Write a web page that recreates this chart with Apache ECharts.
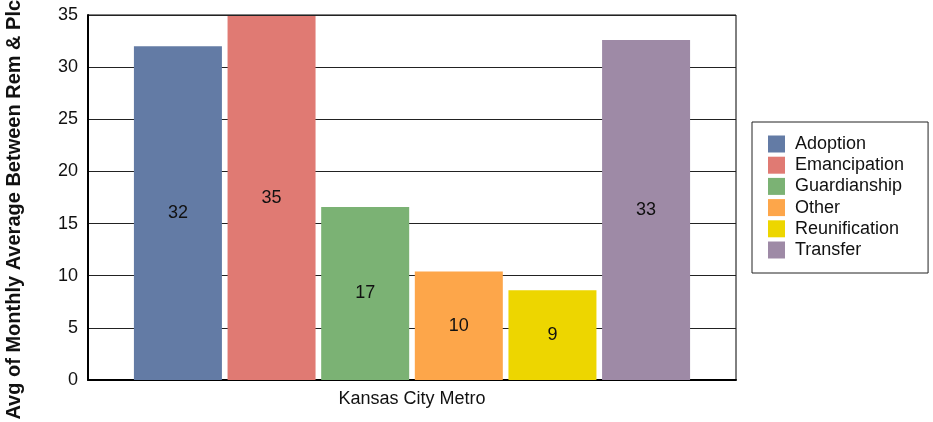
<!DOCTYPE html>
<html>
<head>
<meta charset="utf-8">
<script src="https://cdn.jsdelivr.net/npm/echarts@6/dist/echarts.min.js"></script>
<style>
  html, body { margin: 0; padding: 0; background: #fff; }
  #chart { width: 933px; height: 422px; }
</style>
</head>
<body>
<div id="chart"></div>
<script>
var categories = ['Kansas City Metro']
var seriesNames = ['Adoption', 'Emancipation', 'Guardianship', 'Other', 'Reunification', 'Transfer']
var seriesValues = [32.0, 34.9, 16.6, 10.4, 8.6, 32.6]
var seriesColors = ['#637BA5', '#E07A73', '#7BB274', '#FDA64A', '#EDD600', '#9E8AA6']
var yTicks = { min: 0, max: 35, interval: 5 }
var yTitle = 'Avg of Monthly Average Between Rem & Plcmt'

var FONT = '"Liberation Sans", Arial, sans-serif'

var chart = echarts.init(document.getElementById('chart'))

var series = seriesNames.map(function (name, i) {
  return {
    name: name,
    type: 'bar',
    data: [seriesValues[i]],
    barWidth: 88,
    barGap: '6.4%',
    itemStyle: { color: seriesColors[i] },
    label: {
      show: true,
      position: 'inside',
      color: '#111',
      fontSize: 18,
      fontFamily: FONT,
      formatter: function (p) { return Math.round(p.value) }
    }
  }
})

var option = {
  animation: false,
  textStyle: { fontFamily: FONT },
  grid: {
    left: 88, right: 197, top: 15, bottom: 42,
    outerBoundsMode: 'none',
    containLabel: false,
    show: true, borderColor: '#000', borderWidth: 1, backgroundColor: '#fff'
  },
  legend: {
    data: seriesNames,
    orient: 'vertical',
    left: 752,
    top: 122,
    borderColor: '#222',
    borderWidth: 1,
    padding: [13, 24, 14, 16],
    itemWidth: 17,
    itemHeight: 17,
    itemGap: 3.2,
    icon: 'rect',
    textStyle: { color: '#111', fontSize: 18, fontFamily: FONT, padding: [0, 0, 0, 5] }
  },
  xAxis: {
    type: 'category',
    data: categories,
    axisLine: { lineStyle: { color: '#000', width: 2 } },
    axisTick: { show: false },
    axisLabel: { color: '#111', fontSize: 18, fontFamily: FONT, margin: 10 }
  },
  yAxis: {
    type: 'value',
    min: yTicks.min,
    max: yTicks.max,
    interval: yTicks.interval,
    name: yTitle,
    nameLocation: 'middle',
    nameGap: 64,
    nameTextStyle: { color: '#111', fontSize: 20, fontWeight: 'bold', fontFamily: FONT },
    axisLine: { show: true, lineStyle: { color: '#000', width: 2 } },
    axisTick: { show: false },
    axisLabel: { color: '#111', fontSize: 18, fontFamily: FONT, margin: 10 },
    splitLine: { lineStyle: { color: '#222', width: 1 } }
  },
  series: series
}

chart.setOption(option)
</script>
</body>
</html>
